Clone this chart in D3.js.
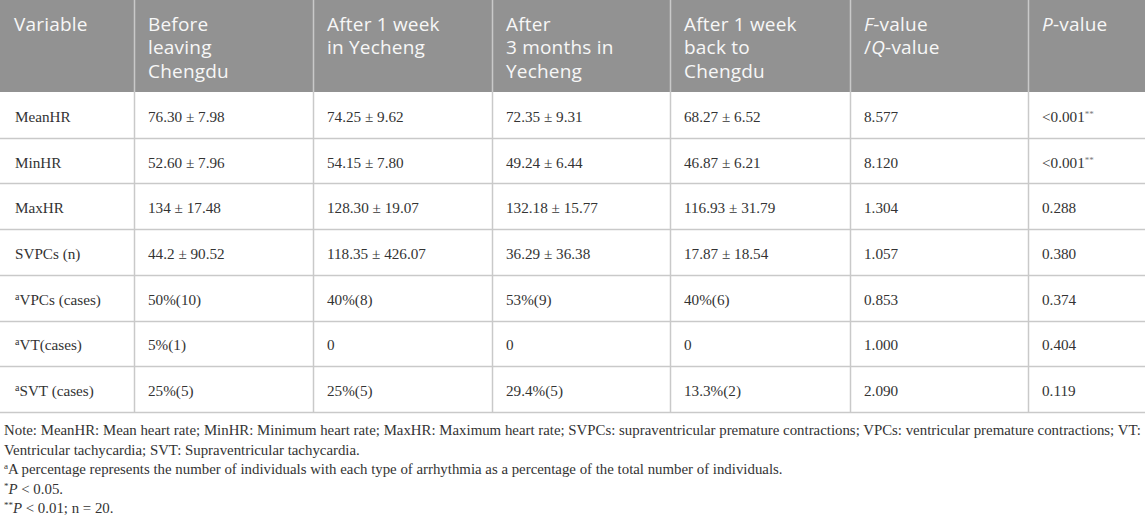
<!DOCTYPE html>
<html>
<head>
<meta charset="utf-8">
<script src="https://cdn.jsdelivr.net/npm/d3@7"></script>
<style>
  body { margin: 0; background: #fff; }
  svg { display: block; }
</style>
</head>
<body>
<div id="table-1"></div>
<script>
// table content
const headers = [
  'Variable',
  'Before\nleaving\nChengdu',
  'After 1 week\nin Yecheng',
  'After\n3 months in\nYecheng',
  'After 1 week\nback to\nChengdu',
  '<i>F</i>-value\n/<i>Q</i>-value',
  '<i>P</i>-value'
];
const variables = ['MeanHR', 'MinHR', 'MaxHR', 'SVPCs (n)', 'VPCs (cases)', 'VT(cases)', 'SVT (cases)'];
const variableMarks = ['', '', '', '', 'a', 'a', 'a'];
const beforeLeaving = ['76.30 ± 7.98', '52.60 ± 7.96', '134 ± 17.48', '44.2 ± 90.52', '50%(10)', '5%(1)', '25%(5)'];
const after1Week = ['74.25 ± 9.62', '54.15 ± 7.80', '128.30 ± 19.07', '118.35 ± 426.07', '40%(8)', '0', '25%(5)'];
const after3Months = ['72.35 ± 9.31', '49.24 ± 6.44', '132.18 ± 15.77', '36.29 ± 36.38', '53%(9)', '0', '29.4%(5)'];
const backToChengdu = ['68.27 ± 6.52', '46.87 ± 6.21', '116.93 ± 31.79', '17.87 ± 18.54', '40%(6)', '0', '13.3%(2)'];
const fqValues = ['8.577', '8.120', '1.304', '1.057', '0.853', '1.000', '2.090'];
const pValues = ['<0.001', '<0.001', '0.288', '0.380', '0.374', '0.404', '0.119'];
const pMarks = ['**', '**', '', '', '', '', ''];
const notes = [
  ['', 'Note: MeanHR: Mean heart rate; MinHR: Minimum heart rate; MaxHR: Maximum heart rate; SVPCs: supraventricular premature contractions; VPCs: ventricular premature contractions; VT:'],
  ['', 'Ventricular tachycardia; SVT: Supraventricular tachycardia.'],
  ['a', 'A percentage represents the number of individuals with each type of arrhythmia as a percentage of the total number of individuals.'],
  ['*', '<i>P</i> < 0.05.'],
  ['**', '<i>P</i> < 0.01; n = 20.']
];

const width = 1145, height = 519;
const colEdges = [0, 134, 313, 492, 670, 850, 1028, 1145];
const headerH = 92, tableBottom = 412;
const pad = 14;

const svg = d3.select('#table-1')
  .append('svg')
  .attr('width', width)
  .attr('height', height);

// rows
const y = d3.scaleBand().domain(variables).range([headerH, tableBottom]);

// helper: write "<i>x</i>-y" style strings as tspans
function richText(sel, str) {
  str.split(/(<i>.*?<\/i>)/).filter(s => s.length).forEach(part => {
    const it = part.startsWith('<i>');
    sel.append('tspan')
      .attr('font-style', it ? 'italic' : null)
      .text(it ? part.slice(3, -4) : part);
  });
}

// header
svg.append('rect')
  .attr('x', 0).attr('y', 0)
  .attr('width', width).attr('height', headerH)
  .attr('fill', '#929292');

headers.forEach((h, i) => {
  const t = svg.append('text')
    .attr('y', 31)
    .attr('font-family', '"Open Sans", sans-serif')
    .attr('font-size', 19)
    .attr('letter-spacing', 0.2)
    .attr('fill', '#f7f7f7');
  h.split('\n').forEach((line, j) => {
    const ln = t.append('tspan')
      .attr('x', colEdges[i] + pad)
      .attr('y', 31 + j * 23.3);
    richText(ln, line);
  });
});

// grid lines
svg.append('g')
  .selectAll('line')
  .data(variables)
  .join('line')
  .attr('x1', 0).attr('x2', width)
  .attr('y1', d => Math.round(y(d) + y.bandwidth()) + 0.5)
  .attr('y2', d => Math.round(y(d) + y.bandwidth()) + 0.5)
  .attr('stroke', '#c9c9c9')
  .attr('stroke-width', 1.5);

svg.append('g')
  .selectAll('line')
  .data(colEdges.slice(1, -1))
  .join('line')
  .attr('x1', d => d + 0.5).attr('x2', d => d + 0.5)
  .attr('y1', 0).attr('y2', tableBottom)
  .attr('stroke', '#c9c9c9')
  .attr('stroke-width', 1.5);

// body cells
const columns = [variables, beforeLeaving, after1Week, after3Months, backToChengdu, fqValues, pValues];
const bodyFont = '"Liberation Serif", "Times New Roman", serif';

columns.forEach((col, i) => {
  col.forEach((val, r) => {
    const t = svg.append('text')
      .attr('x', colEdges[i] + pad + (i === 0 ? 1 : 0))
      .attr('y', y(variables[r]) + y.bandwidth() / 2 + 7)
      .attr('font-family', bodyFont)
      .attr('font-size', 15.2)
      .attr('fill', '#333');
    if (i === 0 && variableMarks[r]) {
      t.append('tspan').attr('font-size', 10).attr('dy', -5).text(variableMarks[r]);
      t.append('tspan').attr('dy', 5).text(val);
    } else {
      t.append('tspan').text(val);
    }
    if (i === 6 && pMarks[r]) {
      t.append('tspan').attr('font-size', 9).attr('dy', -5).attr('fill', '#777').text(pMarks[r]);
    }
  });
});

// notes below the table
notes.forEach((n, j) => {
  const t = svg.append('text')
    .attr('x', 4)
    .attr('y', 435 + j * 19.6)
    .attr('font-family', bodyFont)
    .attr('font-size', 14.85)
    .attr('fill', '#333');
  if (n[0]) {
    t.append('tspan').attr('font-size', 9).attr('dy', -5).text(n[0]);
    const rest = t.append('tspan').attr('dy', 5);
    richText(rest, n[1]);
  } else {
    richText(t, n[1]);
  }
});
</script>
</body>
</html>
